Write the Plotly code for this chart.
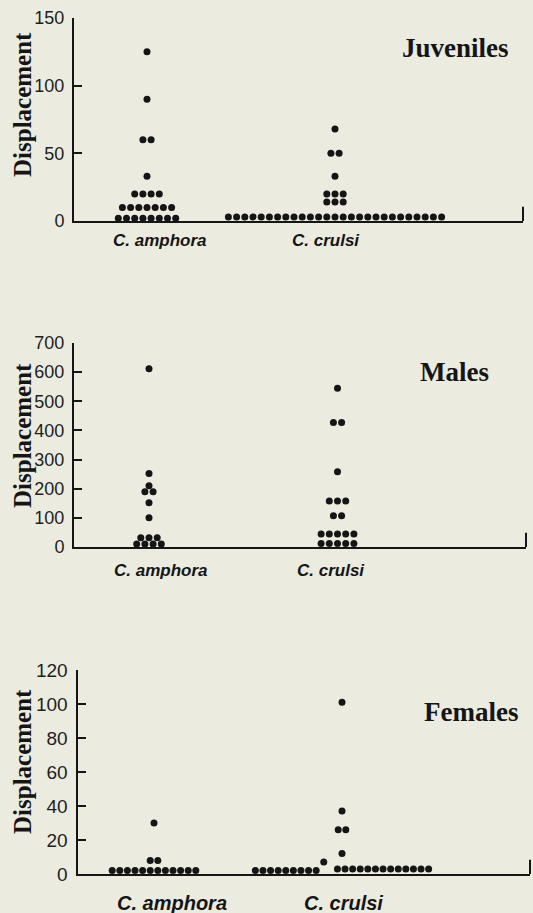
import plotly.graph_objects as go

W, H = 533, 913

species = ["C. amphora", "C. crulsi"]
panel_names = ["Juveniles", "Males", "Females"]
y_title = "Displacement"

# ---- data (displacement of each individual) ----
juv_amphora = [125, 90, 60, 60, 33, 20, 20, 20, 20,
               10, 10, 10, 10, 10, 10, 10,
               2, 2, 2, 2, 2, 2, 2, 2]
juv_crulsi = [68, 50, 50, 33, 20, 20, 20, 14, 14, 14,
              3, 3, 3, 3, 3, 3, 3, 3, 3, 3, 3, 3, 3, 3,
              3, 3, 3, 3, 3, 3, 3, 3, 3, 3, 3, 3, 3]

mal_amphora = [612, 252, 210, 190, 190, 152, 100, 32, 32, 32, 10, 10, 10, 10]
mal_crulsi = [545, 427, 427, 258, 158, 158, 158, 107, 107,
              45, 45, 45, 45, 45, 12, 12, 12, 12, 12]

fem_amphora = [30, 8, 8, 2, 2, 2, 2, 2, 2, 2, 2, 2, 2, 2, 2]
fem_crulsi = [101, 37, 26, 26, 12, 7,
              2, 2, 2, 2, 2, 2, 2, 2, 2,
              3, 3, 3, 3, 3, 3, 3, 3, 3, 3, 3, 3, 3]

y_ticks_juv = [0, 50, 100, 150]
y_ticks_mal = [0, 100, 200, 300, 400, 500, 600, 700]
y_ticks_fem = [0, 20, 40, 60, 80, 100, 120]

# ---- layout / style (pixel geometry of each panel) ----
panels = [
    dict(data=(juv_amphora, juv_crulsi), ticks=y_ticks_juv,
         ax_x=(74, 523), ax_y=(18, 221), centers=(147, 335), spacing=8.2,
         shifts=({}, {}), tick_font=18, cat_font=17,
         cat_lbl=((160, 241), (326, 241)), name_pos=(455, 48), title_pos=(22, 105)),
    dict(data=(mal_amphora, mal_crulsi), ticks=y_ticks_mal,
         ax_x=(74, 526), ax_y=(343, 547), centers=(149, 337.5), spacing=8.2,
         shifts=({}, {}), tick_font=18, cat_font=17,
         cat_lbl=((161, 570), (331, 570)), name_pos=(454, 372), title_pos=(22, 436)),
    dict(data=(fem_amphora, fem_crulsi), ticks=y_ticks_fem,
         ax_x=(77.5, 530), ax_y=(670, 874), centers=(154, 342), spacing=7.6,
         shifts=({}, {2: -7.4, 7: -2.4, 3: 5.4}), tick_font=19, cat_font=20,
         cat_lbl=((172, 903), (343, 903)), name_pos=(471, 712), title_pos=(22, 762)),
]

BG = "#ebebe0"
INK = "#151515"


def px(x):
    return x / W


def py(y):
    return 1 - y / H


def row_layout(values, spacing_units, shifts):
    """Arrange equal values side by side in rows centred on the category."""
    counts = {}
    for v in values:
        counts[v] = counts.get(v, 0) + 1
    seen = {}
    offs = []
    for v in values:
        i = seen.get(v, 0)
        seen[v] = i + 1
        n = counts[v]
        offs.append((i - (n - 1) / 2 + shifts.get(v, 0)) * spacing_units)
    return offs


fig = go.Figure()
annotations = []
shapes = []

for k, p in enumerate(panels):
    sfx = "" if k == 0 else str(k + 1)
    xa, ya = "xaxis" + sfx, "yaxis" + sfx
    xr, yr = "x" + sfx, "y" + sfx
    c1, c2 = p["centers"]
    x0, x1 = p["ax_x"]
    unit = c2 - c1
    xrange = [1 - (c1 - x0) / unit, 2 + (x1 - c2) / unit]
    sp_units = p["spacing"] / unit

    for j, vals in enumerate(p["data"]):
        offs = row_layout(vals, sp_units, p["shifts"][j])
        fig.add_trace(go.Scatter(
            x=[j + 1 + o for o in offs], y=vals, mode="markers",
            marker=dict(size=7, color=INK, line=dict(width=0)),
            xaxis=xr, yaxis=yr, showlegend=False, cliponaxis=False,
            hoverinfo="y"))

    top, bot = p["ax_y"]
    fig.layout[xa] = dict(domain=[px(x0), px(x1)], range=xrange, showgrid=False,
                          zeroline=False, showline=True, linecolor=INK, linewidth=2,
                          ticks="", showticklabels=False, anchor=yr, fixedrange=True,
                          automargin=False)
    fig.layout[ya] = dict(domain=[py(bot), py(top)], range=[0, p["ticks"][-1]],
                          tickvals=p["ticks"], showgrid=False, zeroline=False,
                          showline=True, linecolor=INK, linewidth=2,
                          ticks="inside", ticklen=8, tickwidth=1.5, tickcolor=INK,
                          ticklabelstandoff=4, automargin=False,
                          tickfont=dict(family="Liberation Sans, Arial", size=p["tick_font"], color="#1e1e1e"),
                          anchor=xr, fixedrange=True)

    # small upward tick closing the x axis at its right end
    shapes.append(dict(type="line", xref=xr + " domain", yref=yr + " domain",
                       x0=1, x1=1, y0=0, y1=0.07, line=dict(color=INK, width=2)))

    for j, (lx, ly) in enumerate(p["cat_lbl"]):
        annotations.append(dict(x=px(lx), y=py(ly), xref="paper", yref="paper",
                                xanchor="center", yanchor="middle",
                                text="<b><i>%s</i></b>" % species[j], showarrow=False,
                                font=dict(family="Liberation Sans, Arial", size=p["cat_font"], color=INK)))
    nx, ny = p["name_pos"]
    annotations.append(dict(x=px(nx), y=py(ny), xref="paper", yref="paper",
                            xanchor="center", yanchor="middle",
                            text="<b>%s</b>" % panel_names[k], showarrow=False,
                            font=dict(family="Liberation Serif, Times New Roman", size=27, color=INK)))
    tx, ty = p["title_pos"]
    annotations.append(dict(x=px(tx), y=py(ty), xref="paper", yref="paper",
                            xanchor="center", yanchor="middle",
                            text="<b>%s</b>" % y_title, showarrow=False, textangle=-90,
                            font=dict(family="Liberation Serif, Times New Roman", size=25, color=INK)))

fig.update_layout(width=W, height=H, margin=dict(l=0, r=0, t=0, b=0, autoexpand=False),
                  paper_bgcolor=BG, plot_bgcolor=BG,
                  annotations=annotations, shapes=shapes, showlegend=False)

fig.write_html("out.html", config={"displayModeBar": False},
               post_script="document.body.style.margin='0';")
